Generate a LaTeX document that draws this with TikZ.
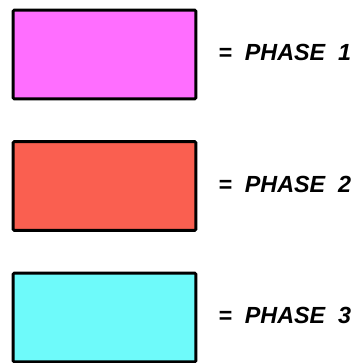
\documentclass[tikz,border=0pt]{standalone}
\usepackage{fontspec}
\setmainfont{Liberation Sans}
\definecolor{phasemag}{RGB}{255,110,255}
\definecolor{phasered}{RGB}{250,95,80}
\definecolor{phasecyan}{RGB}{110,250,250}
\tikzset{
  phasebox/.style={draw=black,line width=2.2pt,rounded corners=0.8pt,
    minimum width=137pt,minimum height=66.5pt,inner sep=0pt},
  phasetext/.style={anchor=west,inner sep=0pt,
    font=\fontsize{17.5}{20}\selectfont\bfseries\itshape}
}
\begin{document}
\begin{tikzpicture}[x=0.75pt,y=-0.75pt]
\useasboundingbox (0,0) rectangle (359,363);
    %legend boxes
\node[phasebox,fill=phasemag] (phaseone) at (104.5,54.5) {};
\node[phasebox,fill=phasered] (phasetwo) at (104.5,186) {};
\node[phasebox,fill=phasecyan] (phasethree) at (104.5,317.5) {};
    %labels
\node[phasetext] (labelone) at (218,52) {=\ \ PHASE\ \ 1};
\node[phasetext] (labeltwo) at (218,184) {=\ \ PHASE\ \ 2};
\node[phasetext] (labelthree) at (218,315.5) {=\ \ PHASE\ \ 3};
\end{tikzpicture}
\end{document}
